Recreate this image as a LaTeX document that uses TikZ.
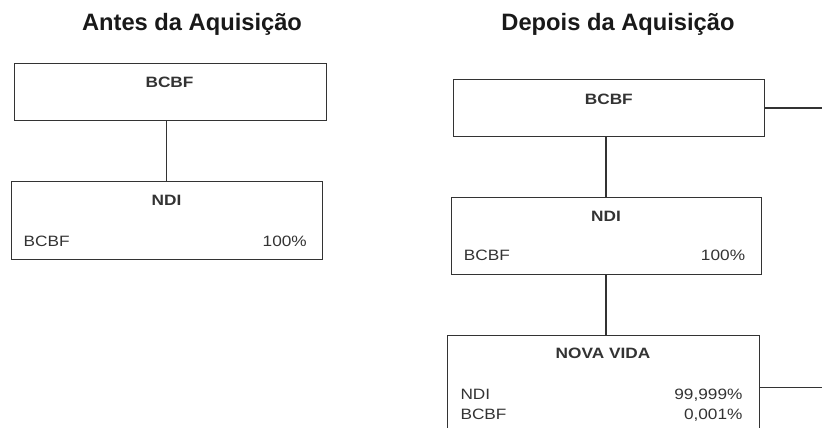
\documentclass[tikz,border=0pt]{standalone}
\usepackage{fontspec}
\setmainfont{Liberation Sans}
\newfontfamily\bxfont[FakeStretch=1.15]{Liberation Sans}
\begin{document}
\begin{tikzpicture}[x=1pt,y=-1pt,
  box/.style={draw=black!80,line width=1pt,rectangle,inner sep=0pt},
  ttl/.style={anchor=base,inner sep=0pt,font=\fontsize{23.7}{28}\selectfont\bfseries,text=black!90},
  hdr/.style={anchor=base,inner sep=0pt,font=\bxfont\fontsize{15}{18}\selectfont\bfseries,text=black!80},
  rowl/.style={anchor=base west,inner sep=0pt,font=\bxfont\fontsize{15}{18}\selectfont,text=black!80},
  rowr/.style={anchor=base east,inner sep=0pt,font=\bxfont\fontsize{15}{18}\selectfont,text=black!80},
  conn/.style={draw=black!80,line width=1.2pt}]
\useasboundingbox (0,0) rectangle (822,428);
\clip (0,0) rectangle (822,428);
% titles
\node[ttl] (t1) at (192,31) {Antes da Aquisição};
\node[ttl] (t2) at (618,31) {Depois da Aquisição};
% left panel
\path (14,64) coordinate (b1a) (326,120) coordinate (b1b);
\node[box,fit/.style={},minimum width=312pt,minimum height=56pt] (b1) at (170,92) {};
\node[box,minimum width=311pt,minimum height=78pt] (n1) at (166.5,220) {};
\node[hdr] (b1h) at (169.5,87.5) {BCBF};
\node[hdr] (n1h) at (166.5,205) {NDI};
\node[rowl] (n1r1l) at (23.5,246.5) {BCBF};
\node[rowr] (n1r1r) at (307,246.5) {100\%};
\draw[conn] (n1.north) -- (n1.north |- b1.south);
% right panel
\node[box,minimum width=310.3pt,minimum height=56pt] (b2) at (608.85,108) {};
\node[box,minimum width=310pt,minimum height=77.7pt] (n2) at (606,235.85) {};
\node[box,minimum width=312.3pt,minimum height=120pt] (nv) at (603.15,395.3) {};
\node[hdr] (b2h) at (608.8,104) {BCBF};
\node[hdr] (n2h) at (606,221) {NDI};
\node[rowl] (n2r1l) at (463.7,260.5) {BCBF};
\node[rowr] (n2r1r) at (745.3,260.5) {100\%};
\node[hdr] (nvh) at (603,358) {NOVA VIDA};
\node[rowl] (nvr1l) at (460.3,399.3) {NDI};
\node[rowr] (nvr1r) at (742.7,399.3) {99,999\%};
\node[rowl] (nvr2l) at (460.3,419) {BCBF};
\node[rowr] (nvr2r) at (742.7,419) {0,001\%};
\coordinate (e1) at (822,108);
\coordinate (e2) at (822,387.3);
\draw[conn] (n2.north) -- (n2.north |- b2.south);
\draw[conn] (n2.south) -- (n2.south |- nv.north);
\draw[conn] (b2.east |- e1) -- (e1);
\draw[conn] (nv.east |- e2) -- (e2);
\end{tikzpicture}
\end{document}
